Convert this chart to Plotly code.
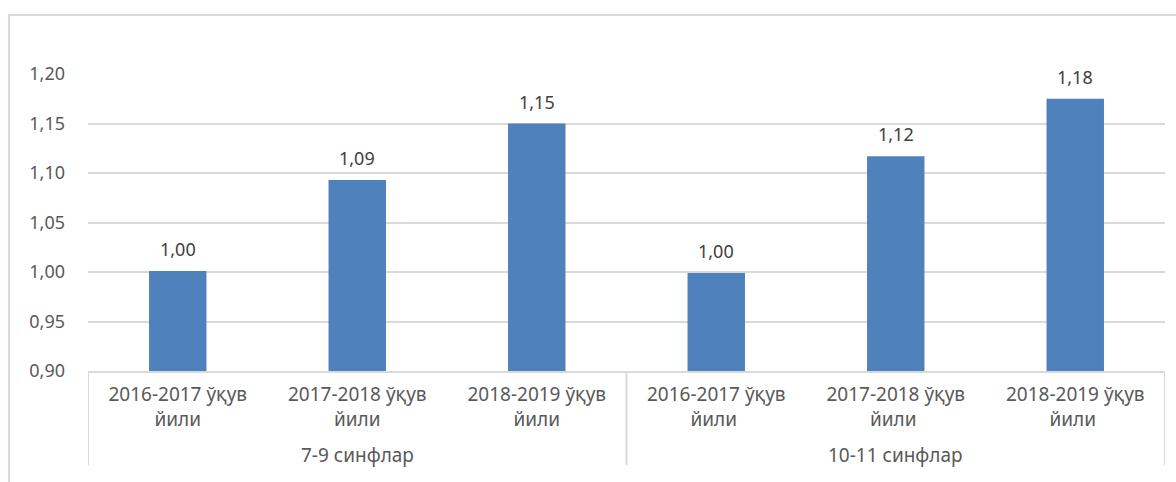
import plotly.graph_objects as go

groups = ["7-9 синфлар", "10-11 синфлар"]
group_sizes = [3, 3]
categories = ["2016-2017 ўқув<br>йили", "2017-2018 ўқув<br>йили", "2018-2019 ўқув<br>йили",
              "2016-2017 ўқув<br>йили ", "2017-2018 ўқув<br>йили ", "2018-2019 ўқув<br>йили "]
values = [1.001, 1.093, 1.150, 0.999, 1.117, 1.175]
y_ticks = [0.90, 0.95, 1.00, 1.05, 1.10, 1.15, 1.20]

grey = "#d9d9d9"
font = "Noto Sans"

fig = go.Figure(
    go.Bar(
        x=categories,
        y=values,
        marker=dict(color="#4f81bd", line=dict(width=0)),
        width=0.32,
        hoverinfo="x+y",
    )
)

# data labels above the bars
for cat, val in zip(categories, values):
    fig.add_annotation(
        x=cat, y=val, xref="x", yref="y",
        text=f"{val:.2f}".replace(".", ","),
        showarrow=False, yanchor="bottom", yshift=8,
        font=dict(family=font, size=18, color="#404040"),
    )

# group labels and dividers under the category labels
start = 0
fig.add_shape(type="line", xref="x", yref="paper", x0=-0.5, x1=-0.5, y0=0, y1=-0.317,
              line=dict(color=grey, width=2))
for name, n in zip(groups, group_sizes):
    fig.add_annotation(
        x=start + (n - 1) / 2, y=-0.284, xref="x", yref="paper",
        text=name, showarrow=False, yanchor="middle",
        font=dict(family=font, size=19, color="#595959"),
    )
    start += n
    fig.add_shape(type="line", xref="x", yref="paper", x0=start - 0.5, x1=start - 0.5,
                  y0=0, y1=-0.317, line=dict(color=grey, width=2))

fig.update_layout(
    width=1176,
    height=482,
    margin=dict(l=88, r=11, t=74, b=111),
    paper_bgcolor="white",
    plot_bgcolor="white",
    separators=", ",
    showlegend=False,
    font=dict(family=font, size=18, color="#595959"),
)

fig.update_yaxes(
    range=[0.90, 1.20],
    tickvals=y_ticks,
    tickformat=".2f",
    showgrid=True,
    gridcolor=grey,
    gridwidth=1.5,
    zeroline=False,
    showline=False,
    ticklabelstandoff=22,
    tickfont=dict(size=18, color="#595959"),
)

fig.update_xaxes(
    type="category",
    range=[-0.5, 5.5],
    showline=True,
    linecolor=grey,
    linewidth=2,
    showgrid=False,
    ticks="",
    ticklabelstandoff=5,
    tickfont=dict(size=19, color="#595959"),
)

# outer chart frame (cut off at right and bottom like the source image)
fig.add_shape(
    type="rect", xref="paper", yref="paper",
    x0=-0.0734, x1=1.05, y0=-0.6, y1=1.199,
    line=dict(color=grey, width=2),
    fillcolor="rgba(0,0,0,0)",
    layer="below",
)

fig.write_html("out.html", config={"displayModeBar": False},
               post_script="document.body.style.margin='0';")
